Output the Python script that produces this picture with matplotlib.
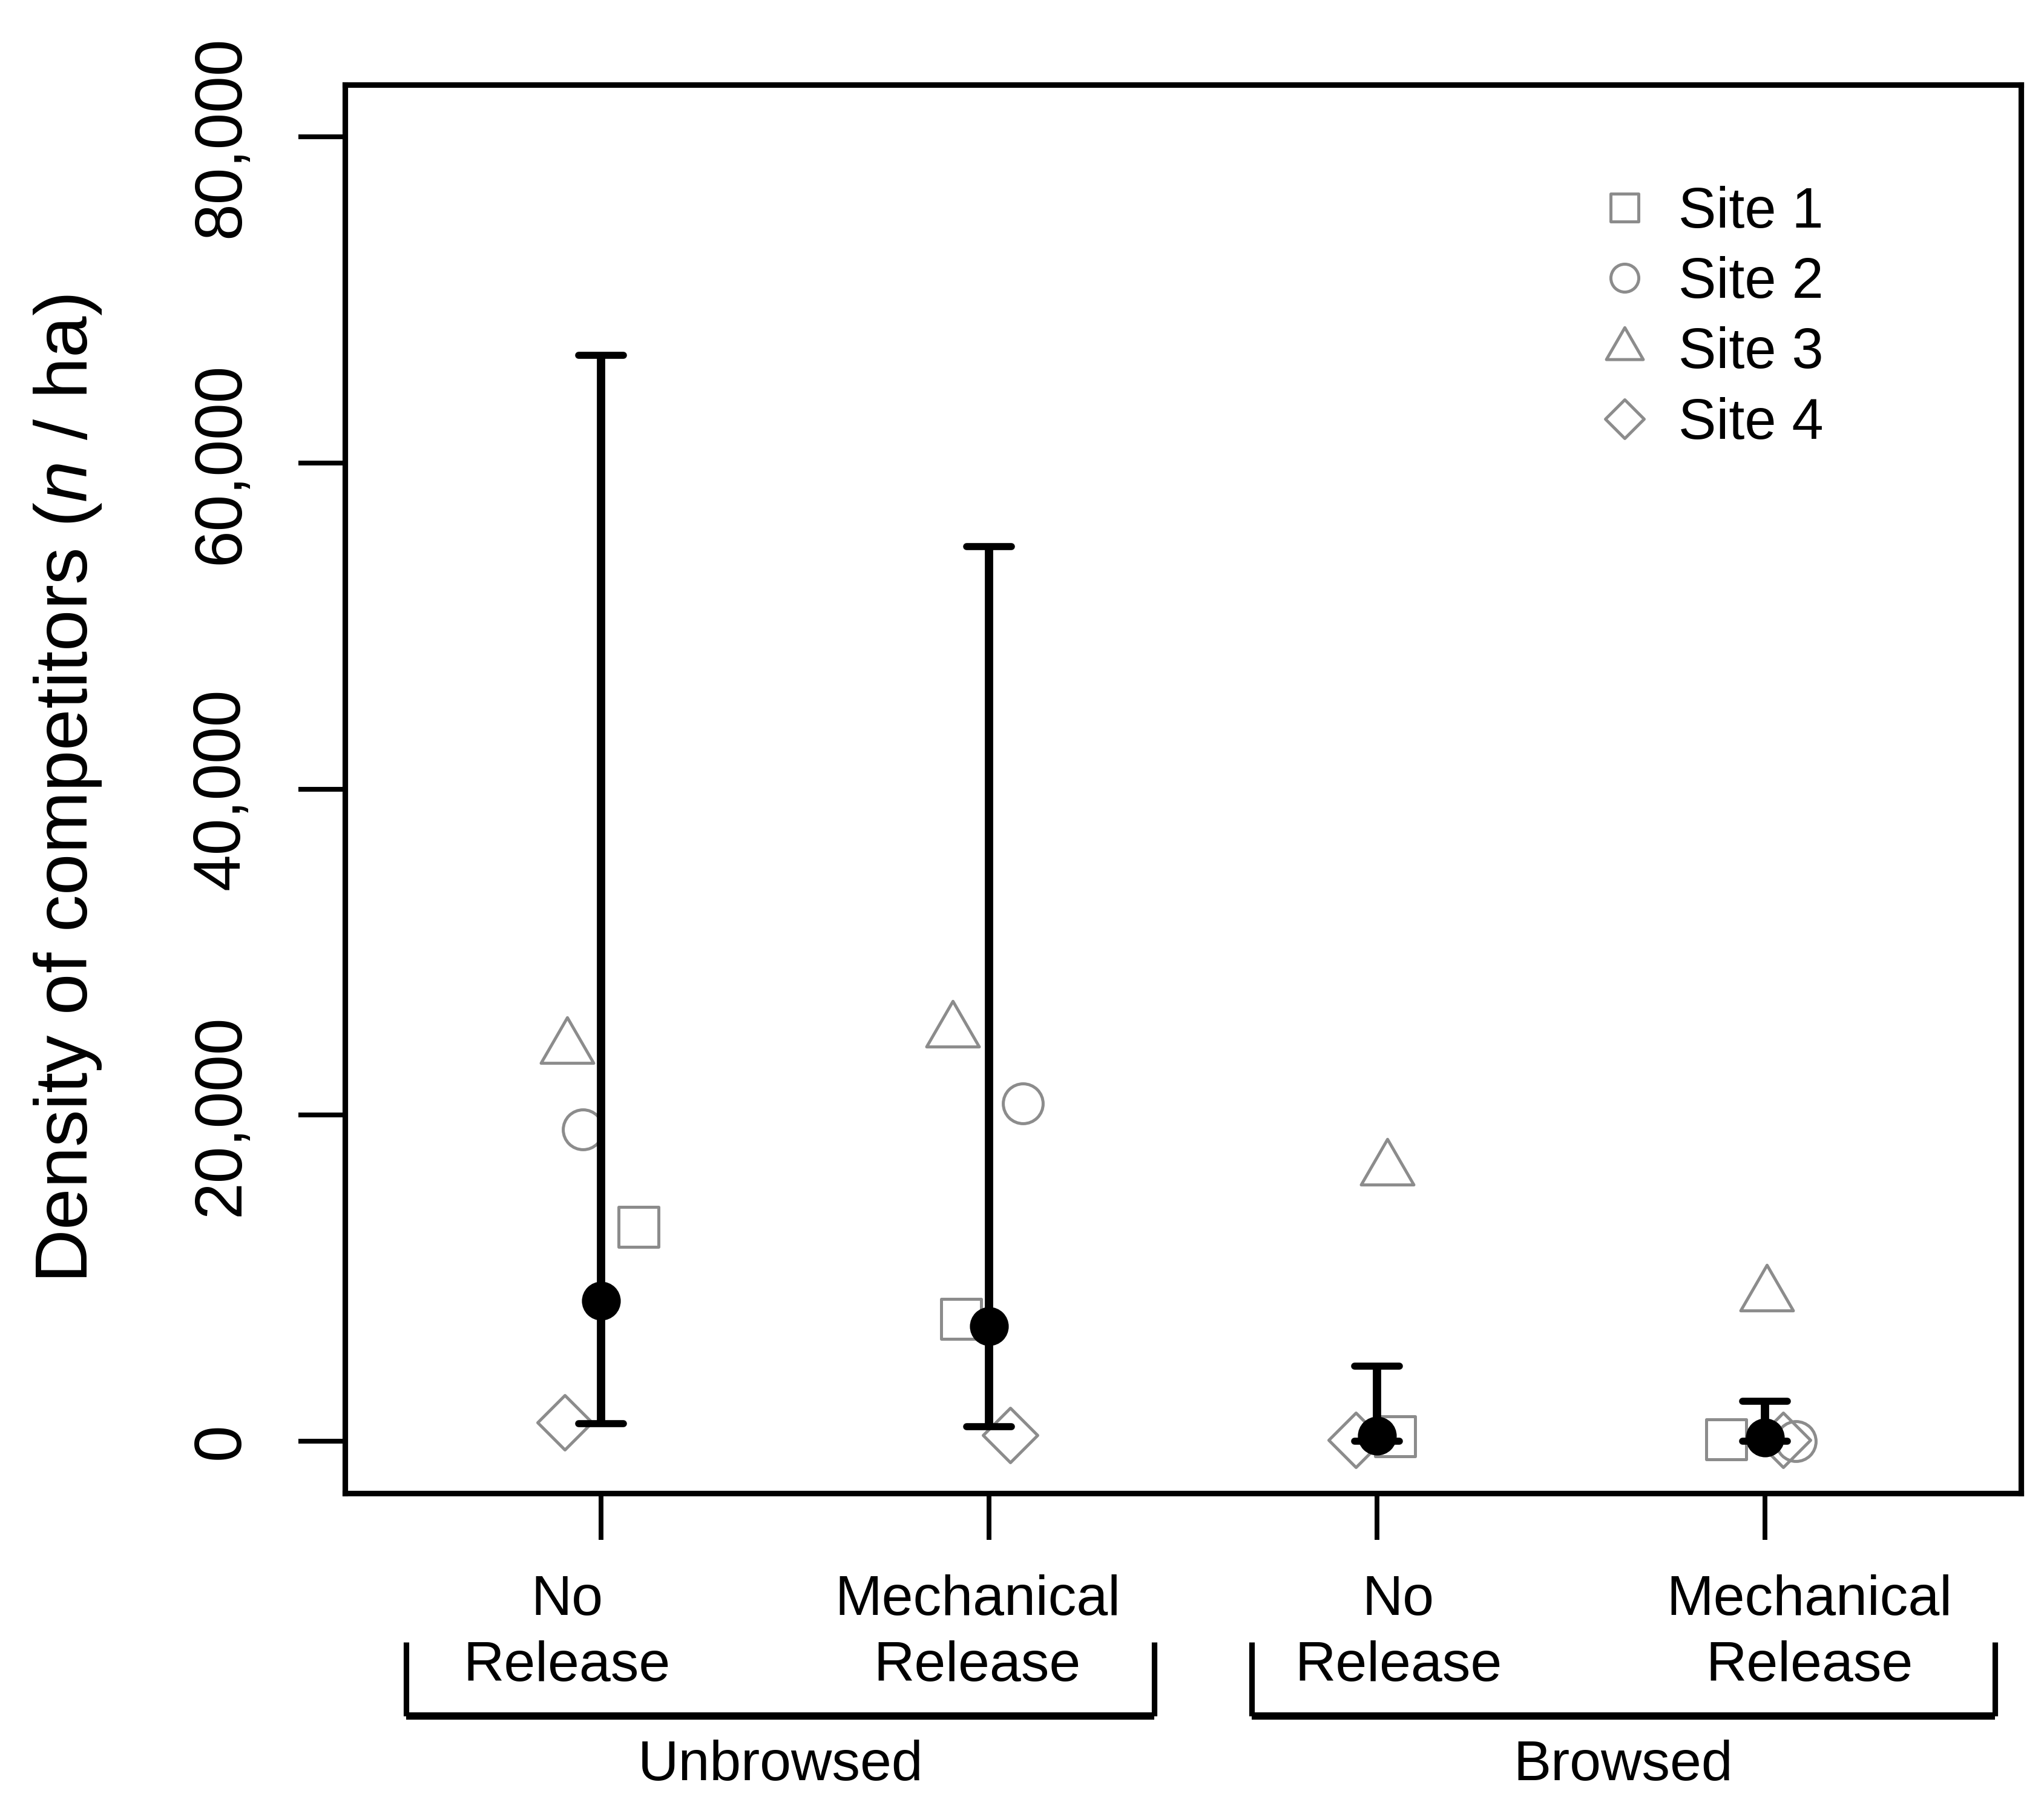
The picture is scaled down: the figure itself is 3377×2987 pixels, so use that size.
import numpy as np
import matplotlib
matplotlib.use("Agg")
import matplotlib.pyplot as plt
from matplotlib.lines import Line2D
from matplotlib.markers import MarkerStyle
from matplotlib.path import Path
from matplotlib.transforms import blended_transform_factory

# treatments along the x axis, grouped by browsing
treatments = ["No\nRelease", "Mechanical\nRelease", "No\nRelease", "Mechanical\nRelease"]
browsing = ["Unbrowsed", "Browsed"]
site_names = ["Site 1", "Site 2", "Site 3", "Site 4"]

# competitor density (n / ha) per site, one value per treatment
site1 = [13150, 7480, 280, 110]
site2 = [19120, 20720, np.nan, 0]
site3 = [24110, 25130, 16660, 8930]
site4 = [1150, 370, 50, 70]

# horizontal jitter of the site points around each treatment
jit1 = [0.097, -0.072, 0.047, -0.100]
jit2 = [-0.047, 0.087, 0.0, 0.079]
jit3 = [-0.087, -0.094, 0.026, 0.004]
jit4 = [-0.094, 0.055, -0.055, 0.046]

# model estimate with lower / upper interval
est_mean = [8610, 7060, 310, 210]
est_lower = [1080, 870, 0, 0]
est_upper = [66590, 54860, 4590, 2460]

plt.rcParams['font.family'] = ['Liberation Sans', 'DejaVu Sans']
plt.rcParams['mathtext.fontset'] = 'custom'
plt.rcParams['mathtext.rm'] = 'Liberation Sans'
plt.rcParams['mathtext.it'] = 'Liberation Sans:italic'

GRAY = '#8c8c8c'

# R style open triangle (pch = 2)
tri = Path([(0, 1.5551), (1.3468, -0.7776), (-1.3468, -0.7776), (0, 1.5551)], closed=True)
markers = [MarkerStyle('s', joinstyle='round'), MarkerStyle('o'),
           MarkerStyle(tri, joinstyle='round'), MarkerStyle('D', joinstyle='round')]
msizes = [15.8, 15.8, 24.1, 15.3]

fig = plt.figure(figsize=(3377 / 300, 2987 / 300), dpi=300)
ax = fig.add_axes([0.1688, 0.1741, 0.8200, 0.7790])

x = np.arange(1, len(treatments) + 1)

for vals, jit, mk, ms in zip([site1, site2, site3, site4], [jit1, jit2, jit3, jit4], markers, msizes):
    ax.plot(x + np.array(jit), vals, ls='none', marker=mk, ms=ms, mfc='none',
            mec=GRAY, mew=1.2, zorder=2)

ax.vlines(x, est_lower, est_upper, color='k', lw=3.3, zorder=3)
ax.hlines(est_upper, x - 0.058, x + 0.058, color='k', lw=2.8, capstyle='round', zorder=3)
ax.hlines(est_lower, x - 0.058, x + 0.058, color='k', lw=2.8, capstyle='round', zorder=3)
ax.plot(x, est_mean, 'o', color='k', ms=15.4, mew=0, zorder=4)

ax.set_xlim(0.34, 4.66)
ax.set_ylim(-3200, 83200)
yt = np.arange(0, 80001, 20000)
ax.set_yticks(yt)
ax.set_yticklabels(["{:,}".format(v) for v in yt], rotation=90, va='center')
ax.set_xticks(x)
ax.tick_params(axis='x', labelbottom=False, length=18.5, width=1.9)
ax.tick_params(axis='y', labelsize=26.2, length=18.5, width=1.9, pad=18)
for sp in ax.spines.values():
    sp.set_linewidth(2.2)

ax.set_ylabel(r"Density of competitors ($\mathit{n}$ / ha)", fontsize=29.5)
ax.yaxis.set_label_coords(-0.144, 0.5)

# treatment labels, brackets and browsing labels below the axis
trans = blended_transform_factory(ax.transData, ax.transAxes)
label_x = [0.912, 1.970, 3.055, 4.115]
for lx, lab in zip(label_x, treatments):
    for line, ly in zip(lab.split("\n"), [-0.0862, -0.1332]):
        ax.text(lx, ly, line, transform=trans, ha='center', va='baseline', fontsize=22.4)

bracket_x = [(0.498, 2.426), (2.677, 4.593)]
group_x = [1.463, 3.634]
for (bx0, bx1), gx, name in zip(bracket_x, group_x, browsing):
    ax.plot([bx0, bx1], [-0.1581, -0.1581], color='k', lw=2.9, transform=trans,
            clip_on=False, solid_capstyle='butt')
    for bx in (bx0, bx1):
        ax.plot([bx, bx], [-0.1581, -0.1057], color='k', lw=2.2, transform=trans,
                clip_on=False, solid_capstyle='butt')
    ax.text(gx, -0.2037, name, transform=trans, ha='center', va='baseline', fontsize=22.4)

handles = [Line2D([], [], ls='none', marker=mk, ms=ms * 0.7, mfc='none', mec=GRAY, mew=1.2)
           for mk, ms in zip(markers, msizes)]
ax.legend(handles, site_names, loc='upper left', bbox_to_anchor=(0.7809, 0.8972),
          bbox_transform=fig.transFigure, frameon=False, fontsize=22.5,
          handlelength=1.0, handletextpad=0.45, labelspacing=0.29,
          borderpad=0, borderaxespad=0)

fig.savefig("out.png", dpi=300)
